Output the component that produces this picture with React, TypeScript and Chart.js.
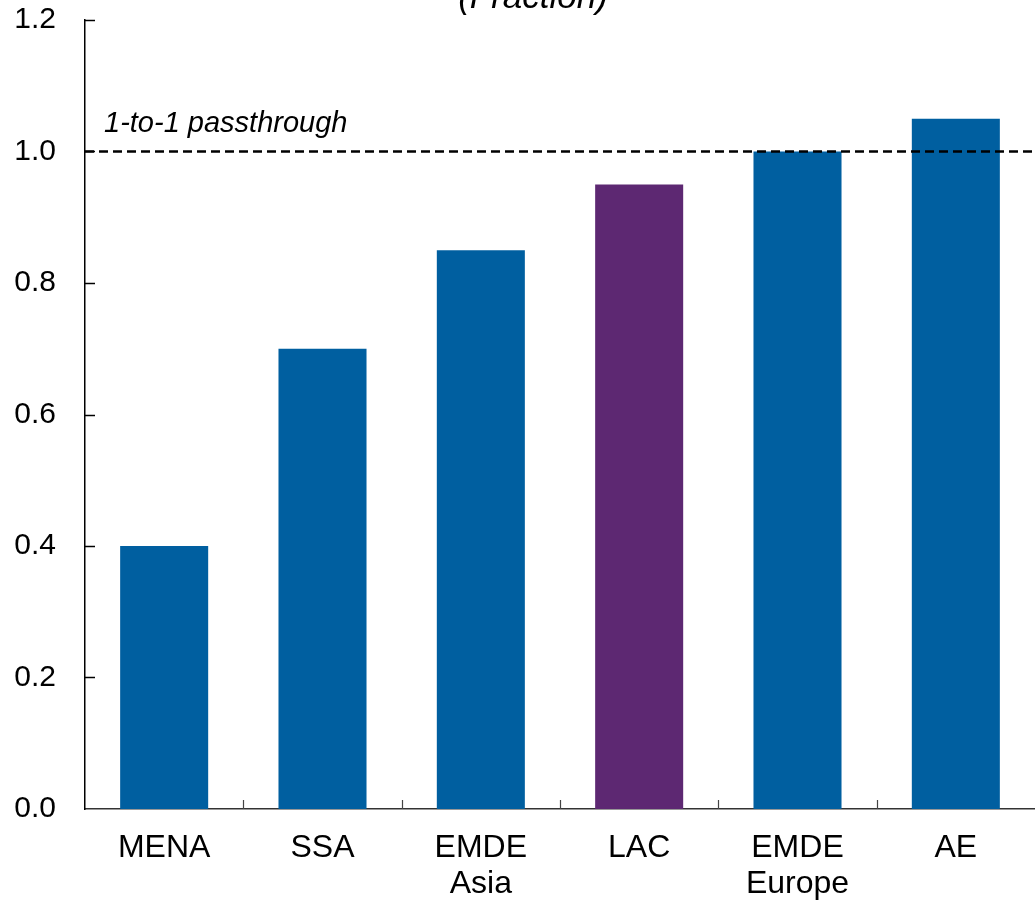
import React, { useEffect, useRef } from "react";
import { Chart, registerables } from "chart.js";

Chart.register(...registerables);

const categories: string[][] = [["MENA"], ["SSA"], ["EMDE", "Asia"], ["LAC"], ["EMDE", "Europe"], ["AE"]];
const passthrough: number[] = [0.4, 0.7, 0.85, 0.95, 1.0, 1.05];
const barColors: string[] = ["#005FA0", "#005FA0", "#005FA0", "#5D2872", "#005FA0", "#005FA0"];
const yTicks: number[] = [0, 0.2, 0.4, 0.6, 0.8, 1.0, 1.2];
const referenceValue = 1.0;
const referenceLabel = "1-to-1 passthrough";
const titleText = "(Fraction)";

const FONT = "'Liberation Sans', Arial, sans-serif";

const decorPlugin = {
  id: "decor",
  afterDraw(chart: any) {
    const ctx = chart.ctx;
    const area = chart.chartArea;
    const x = chart.scales.x;
    const y = chart.scales.y;
    ctx.save();
    // y inside ticks
    ctx.strokeStyle = "#000";
    ctx.lineWidth = 1.5;
    yTicks.forEach((v) => {
      if (v === 0) return;
      const py = Math.round(y.getPixelForValue(v)) + 0.5;
      ctx.beginPath();
      ctx.moveTo(area.left, py);
      ctx.lineTo(area.left + 10, py);
      ctx.stroke();
    });
    // x inside ticks at category boundaries
    ctx.strokeStyle = "#444";
    ctx.lineWidth = 1.2;
    for (let i = 0; i < categories.length - 1; i++) {
      const px = Math.round((x.getPixelForValue(i) + x.getPixelForValue(i + 1)) / 2) + 0.5;
      ctx.beginPath();
      ctx.moveTo(px, area.bottom);
      ctx.lineTo(px, area.bottom - 9);
      ctx.stroke();
    }
    // reference dashed line
    const ry = y.getPixelForValue(referenceValue);
    ctx.strokeStyle = "#000";
    ctx.lineWidth = 2.5;
    ctx.setLineDash([9, 5]);
    ctx.beginPath();
    ctx.moveTo(area.left, ry);
    ctx.lineTo(chart.width, ry);
    ctx.stroke();
    ctx.setLineDash([]);
    // reference label
    ctx.fillStyle = "#000";
    ctx.font = `italic 29px ${FONT}`;
    ctx.textAlign = "left";
    ctx.textBaseline = "alphabetic";
    ctx.fillText(referenceLabel, area.left + 19, ry - 20);
    // title (cut off at top)
    ctx.font = `italic 35px ${FONT}`;
    ctx.textAlign = "center";
    ctx.fillText(titleText, chart.width * 0.515, area.top - 12);
    ctx.restore();
  },
};

export default function App() {
  const ref = useRef<HTMLCanvasElement | null>(null);
  useEffect(() => {
    document.body.style.margin = "0";
    const canvas = ref.current;
    if (!canvas) return;
    const chart = new Chart(canvas, {
      type: "bar",
      data: {
        labels: categories,
        datasets: [
          {
            data: passthrough,
            backgroundColor: barColors,
            borderWidth: 0,
            barPercentage: 0.556,
            categoryPercentage: 1,
          },
        ],
      },
      options: {
        responsive: false,
        animation: false,
        devicePixelRatio: 1,
        layout: { padding: { top: 20, right: 0, bottom: 0, left: 0 } },
        plugins: {
          legend: { display: false },
          tooltip: { enabled: false },
          title: { display: false },
        },
        scales: {
          x: {
            offset: true,
            grid: { display: false, drawTicks: false },
            border: { display: true, color: "#333", width: 1.5 },
            ticks: {
              color: "#000",
              font: { family: FONT, size: 32, lineHeight: 1.1 },
              padding: 22,
              maxRotation: 0,
              autoSkip: false,
            },
            afterFit(scale: any) {
              scale.height = 93;
              scale.paddingLeft = 0;
              scale.paddingRight = 0;
            },
          },
          y: {
            min: 0,
            max: 1.2,
            grid: { display: false, drawTicks: false },
            border: { display: true, color: "#000", width: 1.5 },
            ticks: {
              stepSize: 0.2,
              color: "#000",
              font: { family: FONT, size: 30 },
              padding: 29,
              callback: (v: any) => Number(v).toFixed(1),
            },
            afterFit(scale: any) {
              scale.width = 85;
              scale.paddingTop = 0;
              scale.paddingBottom = 0;
            },
          },
        },
      },
      plugins: [decorPlugin],
    });
    return () => chart.destroy();
  }, []);
  return <canvas ref={ref} width={1035} height={902} style={{ display: "block" }} />;
}
